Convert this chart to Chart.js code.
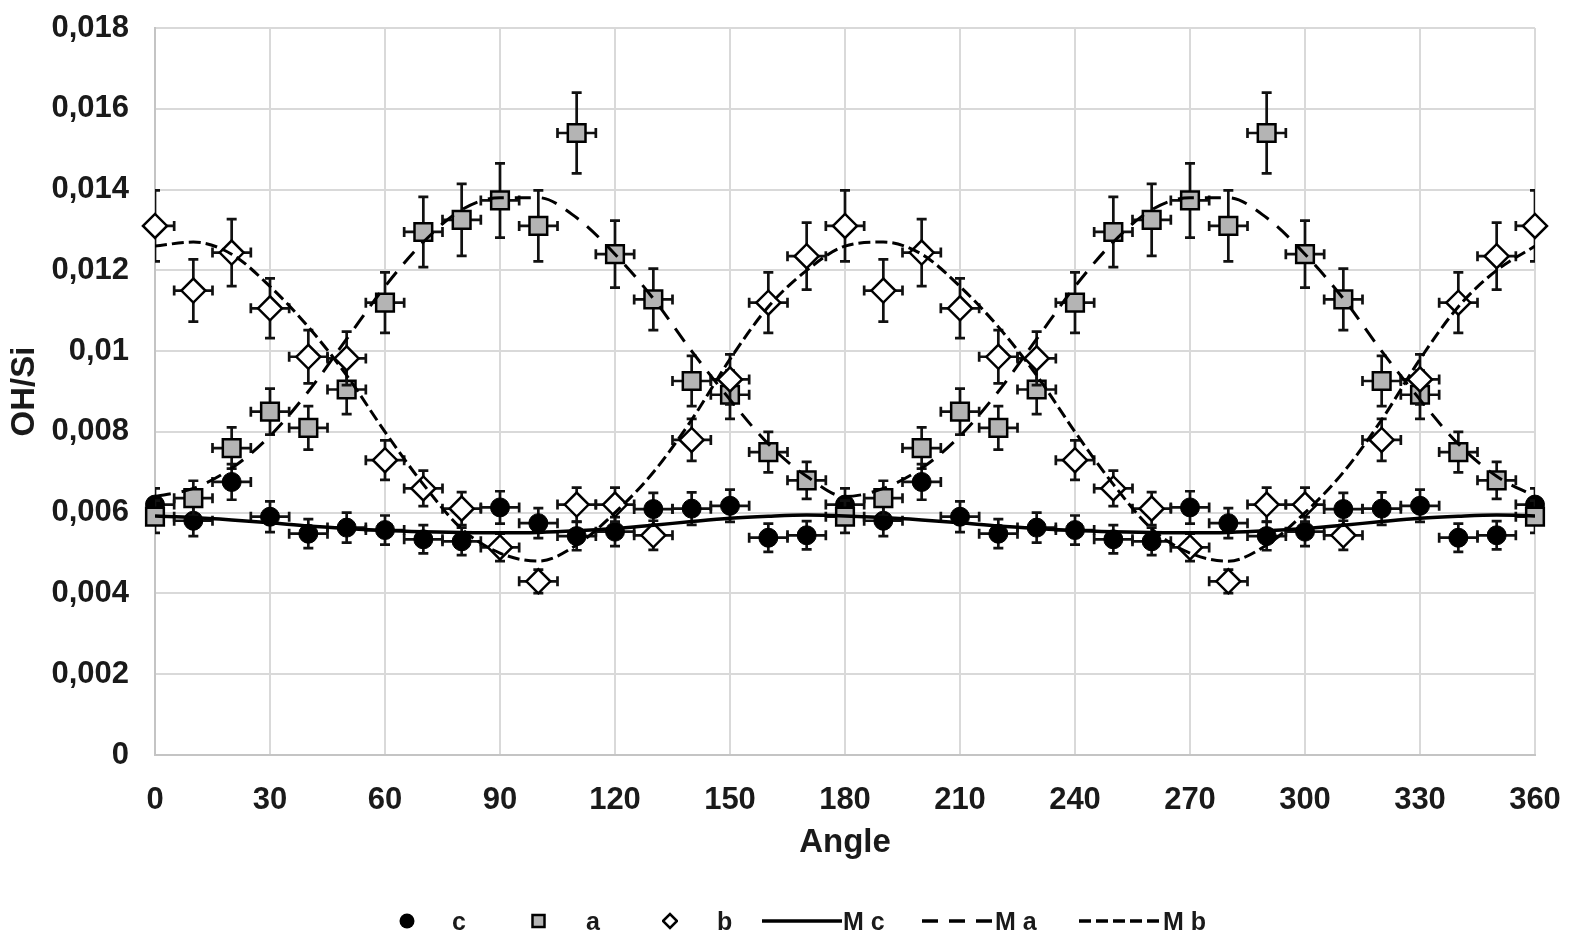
<!DOCTYPE html>
<html>
<head>
<meta charset="utf-8">
<title>OH/Si vs Angle</title>
<script src="https://cdn.jsdelivr.net/npm/chart.js@4.4.1/dist/chart.umd.min.js"></script>
<style>
  html, body { margin: 0; padding: 0; background: #ffffff; }
  #wrap { position: relative; width: 1575px; height: 951px; overflow: hidden; }
  #chart { position: absolute; left: 0; top: 0; }
  #legend { position: absolute; left: 0; top: 0; width: 1575px; height: 951px; pointer-events: none;
            font: bold 25px "Liberation Sans", Arial, sans-serif; color: #1a1a1a; }
  .item { position: absolute; top: 906px; height: 30px; display: flex; align-items: center; white-space: pre; }
  .item svg { display: block; }
</style>
</head>
<body>
<div id="wrap">
  <canvas id="chart" width="1575" height="951"></canvas>
  <div id="legend"></div>
</div>
<script>
// Measurement angles (degrees)
const angles = [0,10,20,30,40,50,60,70,80,90,100,110,120,130,140,150,160,170,180,
                190,200,210,220,230,240,250,260,270,280,290,300,310,320,330,340,350,360];

// Measured OH/Si, polarisation along c
const cValues = [0.0062,0.0058,0.00676,0.0059,0.00548,0.00563,0.00557,0.00534,0.00529,0.00613,
                 0.00574,0.00542,0.00553,0.00609,0.0061,0.00617,0.00538,0.00544,0.0062,
                 0.0058,0.00676,0.0059,0.00548,0.00563,0.00557,0.00534,0.00529,0.00613,
                 0.00574,0.00542,0.00553,0.00609,0.0061,0.00617,0.00538,0.00544,0.0062];
const cErr = [0.0004,0.00038,0.00044,0.00038,0.00036,0.00037,0.00036,0.00035,0.00034,0.0004,
              0.00037,0.00035,0.00036,0.0004,0.0004,0.0004,0.00035,0.00035,0.0004,
              0.00038,0.00044,0.00038,0.00036,0.00037,0.00036,0.00035,0.00034,0.0004,
              0.00037,0.00035,0.00036,0.0004,0.0004,0.0004,0.00035,0.00035,0.0004];

// Measured OH/Si, polarisation along a
const aValues = [0.0059,0.00636,0.0076,0.0085,0.0081,0.00905,0.0112,0.01295,0.01325,0.01373,
                 0.0131,0.0154,0.0124,0.01128,0.00926,0.00892,0.0075,0.0068,0.0059,
                 0.00636,0.0076,0.0085,0.0081,0.00905,0.0112,0.01295,0.01325,0.01373,
                 0.0131,0.0154,0.0124,0.01128,0.00926,0.00892,0.0075,0.0068,0.0059];
const aErr = [0.0004,0.00043,0.00051,0.00057,0.00054,0.00061,0.00075,0.00087,0.00089,0.00092,
              0.00088,0.001,0.00083,0.00076,0.00062,0.0006,0.0005,0.00046,0.0004,
              0.00043,0.00051,0.00057,0.00054,0.00061,0.00075,0.00087,0.00089,0.00092,
              0.00088,0.001,0.00083,0.00076,0.00062,0.0006,0.0005,0.00046,0.0004];

// Measured OH/Si, polarisation along b
const bValues = [0.0131,0.0115,0.01244,0.01106,0.00986,0.00982,0.0073,0.0066,0.0061,0.00514,
                 0.0043,0.0062,0.0062,0.00544,0.0078,0.0093,0.0112,0.01235,0.0131,
                 0.0115,0.01244,0.01106,0.00986,0.00982,0.0073,0.0066,0.0061,0.00514,
                 0.0043,0.0062,0.0062,0.00544,0.0078,0.0093,0.0112,0.01235,0.0131];
const bErr = [0.00088,0.00077,0.00083,0.00074,0.00066,0.00066,0.00049,0.00044,0.00041,0.00034,
              0.00029,0.00042,0.00042,0.00036,0.00052,0.00062,0.00075,0.00083,0.00088,
              0.00077,0.00083,0.00074,0.00066,0.00066,0.00049,0.00044,0.00041,0.00034,
              0.00029,0.00042,0.00042,0.00036,0.00052,0.00062,0.00075,0.00083,0.00088];

// Angular uncertainty (degrees)
const angleErr = 5;

// Model curves
const mcValues = [0.00592,0.00588,0.00582,0.00575,0.00567,0.00561,0.00556,0.00553,0.00551,0.0055,
                  0.00551,0.00555,0.00561,0.00569,0.00578,0.00586,0.00591,0.00594,0.00592,
                  0.00588,0.00582,0.00575,0.00567,0.00561,0.00556,0.00553,0.00551,0.0055,
                  0.00551,0.00555,0.00561,0.00569,0.00578,0.00586,0.00591,0.00594,0.00592];
const maValues = [0.0064,0.0066,0.0071,0.0079,0.009,0.0103,0.0116,0.0127,0.0135,0.0138,
                  0.0138,0.0133,0.0124,0.0113,0.01,0.0088,0.0077,0.0069,0.0064,
                  0.0066,0.0071,0.0079,0.009,0.0103,0.0116,0.0127,0.0135,0.0138,
                  0.0138,0.0133,0.0124,0.0113,0.01,0.0088,0.0077,0.0069,0.0064];
const mbValues = [0.0126,0.0127,0.0124,0.0116,0.0106,0.0094,0.008,0.0067,0.0056,0.005,
                  0.0048,0.0052,0.006,0.007,0.0083,0.0098,0.0111,0.012,0.0126,
                  0.0127,0.0124,0.0116,0.0106,0.0094,0.008,0.0067,0.0056,0.005,
                  0.0048,0.0052,0.006,0.007,0.0083,0.0098,0.0111,0.012,0.0126];

// Axis ticks
const xTicks = { min: 0, max: 360, step: 30 };
const yTicks = { min: 0, max: 0.018, step: 0.002 };

const FONT = '"Liberation Sans", Arial, sans-serif';
const INK = '#1a1a1a';
const CLEAR = 'rgba(0,0,0,0)';

const toPoints = (xs, ys) => xs.map((x, i) => ({ x: x, y: ys[i] }));
const fmtComma = v => String(+Number(v).toFixed(4)).replace('.', ',');

// Draws x/y error bars for a dataset just before its markers, clipped to the plot area
const errorBars = {
  id: 'errorBars',
  beforeDatasetDraw(chart, args) {
    const ds = chart.data.datasets[args.index];
    if (!ds.errY) return;
    const { ctx, chartArea: ca } = chart;
    const xs = chart.scales.x, ys = chart.scales.y;
    const cap = 5;
    ctx.save();
    ctx.beginPath();
    ctx.rect(ca.left, ca.top, ca.right - ca.left, ca.bottom - ca.top);
    ctx.clip();
    ctx.strokeStyle = '#111111';
    ctx.lineWidth = 2.7;
    ctx.lineCap = 'butt';
    ds.data.forEach((p, i) => {
      const px = xs.getPixelForValue(p.x);
      const py = ys.getPixelForValue(p.y);
      const yTop = ys.getPixelForValue(p.y + ds.errY[i]);
      const yBot = ys.getPixelForValue(p.y - ds.errY[i]);
      const xL = xs.getPixelForValue(p.x - ds.errX);
      const xR = xs.getPixelForValue(p.x + ds.errX);
      ctx.beginPath();
      ctx.moveTo(px, yTop); ctx.lineTo(px, yBot);
      ctx.moveTo(px - cap, yTop); ctx.lineTo(px + cap, yTop);
      ctx.moveTo(px - cap, yBot); ctx.lineTo(px + cap, yBot);
      ctx.moveTo(xL, py); ctx.lineTo(xR, py);
      ctx.moveTo(xL, py - cap); ctx.lineTo(xL, py + cap);
      ctx.moveTo(xR, py - cap); ctx.lineTo(xR, py + cap);
      ctx.stroke();
    });
    ctx.restore();
  }
};

const bgWhite = {
  id: 'bgWhite',
  beforeDraw(chart) {
    const { ctx, width, height } = chart;
    ctx.save();
    ctx.fillStyle = '#ffffff';
    ctx.fillRect(0, 0, width, height);
    ctx.restore();
  }
};

const markerSeries = (label, ys, err, style, radius, fill, border, order) => ({
  type: 'scatter',
  label: label,
  data: toPoints(angles, ys),
  errY: err,
  errX: angleErr,
  showLine: false,
  pointStyle: style,
  pointRadius: radius,
  pointHoverRadius: radius,
  pointBackgroundColor: fill,
  pointBorderColor: '#000000',
  pointBorderWidth: border,
  backgroundColor: fill,
  borderColor: '#000000',
  clip: false,
  order: order
});

const modelSeries = (label, ys, dash, width, order) => ({
  type: 'line',
  label: label,
  data: toPoints(angles, ys),
  borderColor: '#000000',
  backgroundColor: '#000000',
  borderWidth: width,
  borderDash: dash,
  pointRadius: 0,
  pointHoverRadius: 0,
  fill: false,
  cubicInterpolationMode: 'monotone',
  order: order
});

const datasets = [
  markerSeries('c', cValues, cErr, 'circle', 9.5, '#000000', 1, 6),
  markerSeries('a', aValues, aErr, 'rect', 12.5, '#b4b4b4', 2.5, 5),
  markerSeries('b', bValues, bErr, 'rectRot', 12, '#ffffff', 2.5, 4),
  modelSeries('M c', mcValues, [], 3.5, 3),
  modelSeries('M a', maValues, [16, 11], 3, 2),
  modelSeries('M b', mbValues, [12, 5], 3, 1)
];

const chart = new Chart(document.getElementById('chart'), {
  type: 'scatter',
  data: { datasets: datasets },
  plugins: [bgWhite, errorBars],
  options: {
    responsive: false,
    devicePixelRatio: 1,
    animation: false,
    layout: { padding: { top: 28, right: 40, bottom: 0, left: 0 } },
    plugins: {
      legend: { display: false },
      tooltip: { enabled: false }
    },
    scales: {
      x: {
        type: 'linear',
        min: xTicks.min,
        max: xTicks.max,
        ticks: {
          stepSize: xTicks.step,
          color: INK,
          padding: 0,
          font: { family: FONT, size: 31, weight: 'bold' }
        },
        grid: { color: '#d9d9d9', lineWidth: 2, drawTicks: true, tickLength: 27, tickColor: CLEAR },
        border: { color: '#c4c4c4', width: 2 },
        title: {
          display: true,
          text: 'Angle',
          color: INK,
          font: { family: FONT, size: 33, weight: 'bold' },
          padding: { top: 0, bottom: 88 }
        },
        afterFit(scale) { scale.height = 196; }
      },
      y: {
        type: 'linear',
        min: yTicks.min,
        max: yTicks.max,
        ticks: {
          stepSize: yTicks.step,
          color: INK,
          padding: 0,
          font: { family: FONT, size: 31, weight: 'bold' },
          callback: v => fmtComma(v)
        },
        grid: { color: '#d9d9d9', lineWidth: 2, drawTicks: true, tickLength: 26, tickColor: CLEAR },
        border: { color: '#c4c4c4', width: 2 },
        title: {
          display: true,
          text: 'OH/Si',
          color: INK,
          font: { family: FONT, size: 33, weight: 'bold' },
          padding: { top: 5, bottom: 0 }
        },
        afterFit(scale) { scale.width = 155; }
      }
    }
  }
});

// HTML legend built from the chart's datasets
const svgNS = 'http://www.w3.org/2000/svg';
function icon(kind, w) {
  const h = 20;
  const svg = document.createElementNS(svgNS, 'svg');
  svg.setAttribute('width', w);
  svg.setAttribute('height', h);
  let el;
  if (kind === 'circle') {
    el = document.createElementNS(svgNS, 'circle');
    el.setAttribute('cx', w / 2); el.setAttribute('cy', h / 2); el.setAttribute('r', 7.5);
    el.setAttribute('fill', '#000');
  } else if (kind === 'rect') {
    el = document.createElementNS(svgNS, 'rect');
    el.setAttribute('x', w / 2 - 6); el.setAttribute('y', h / 2 - 6);
    el.setAttribute('width', 12); el.setAttribute('height', 12);
    el.setAttribute('fill', '#b4b4b4'); el.setAttribute('stroke', '#000'); el.setAttribute('stroke-width', 2.5);
  } else if (kind === 'rectRot') {
    el = document.createElementNS(svgNS, 'polygon');
    const cx = w / 2, cy = h / 2, r = 7;
    el.setAttribute('points', `${cx - r},${cy} ${cx},${cy - r} ${cx + r},${cy} ${cx},${cy + r}`);
    el.setAttribute('fill', '#fff'); el.setAttribute('stroke', '#000'); el.setAttribute('stroke-width', 2.5);
  } else {
    el = document.createElementNS(svgNS, 'line');
    el.setAttribute('x1', 0); el.setAttribute('y1', h / 2);
    el.setAttribute('x2', w); el.setAttribute('y2', h / 2);
    el.setAttribute('stroke', '#000'); el.setAttribute('stroke-width', 3.5);
    if (kind.length) el.setAttribute('stroke-dasharray', kind.join(' '));
  }
  svg.appendChild(el);
  return svg;
}

const legendLayout = [
  { left: 399, width: 16, gap: 37 },
  { left: 531, width: 15, gap: 40 },
  { left: 662, width: 16, gap: 39 },
  { left: 762, width: 80, gap: 1 },
  { left: 922, width: 70, gap: 3 },
  { left: 1079, width: 81, gap: 3 }
];
const legendBox = document.getElementById('legend');
chart.data.datasets.forEach((ds, i) => {
  const spot = legendLayout[i];
  const item = document.createElement('div');
  item.className = 'item';
  item.style.left = spot.left + 'px';
  const kind = ds.type === 'line' ? ds.borderDash : ds.pointStyle;
  const ic = icon(kind, spot.width);
  ic.style.marginRight = spot.gap + 'px';
  item.appendChild(ic);
  const label = document.createElement('span');
  label.textContent = ds.label;
  item.appendChild(label);
  legendBox.appendChild(item);
});
</script>
</body>
</html>
